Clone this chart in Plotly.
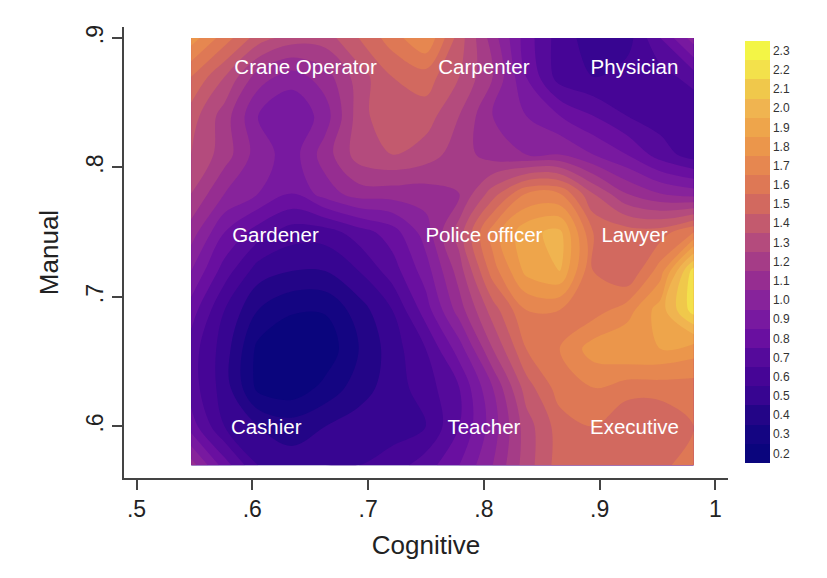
import plotly.graph_objects as go

cognitive = [0.5472, 0.5761, 0.6051, 0.634, 0.6629, 0.6919, 0.7208, 0.7497, 0.7787, 0.8076, 0.8365, 0.8655, 0.8944, 0.9233, 0.9523, 0.9812]
manual = [0.57, 0.6, 0.63, 0.66, 0.69, 0.72, 0.75, 0.78, 0.81, 0.84, 0.87, 0.9]

# rows run bottom (manual .57) to top (manual .90)
intensity = [
    [1.10, 0.80, 0.55, 0.50, 0.55, 0.55, 0.60, 0.70, 0.85, 1.05, 1.30, 1.50, 1.50, 1.50, 1.50, 1.65],
    [0.80, 0.55, 0.45, 0.40, 0.45, 0.50, 0.50, 0.55, 0.75, 1.00, 1.30, 1.50, 1.55, 1.45, 1.45, 1.55],
    [0.70, 0.50, 0.22, 0.18, 0.28, 0.40, 0.50, 0.60, 0.75, 1.05, 1.40, 1.60, 1.65, 1.60, 1.60, 1.60],
    [0.70, 0.50, 0.22, 0.18, 0.18, 0.35, 0.50, 0.65, 0.90, 1.25, 1.55, 1.65, 1.80, 1.85, 1.85, 1.80],
    [0.80, 0.55, 0.35, 0.26, 0.26, 0.40, 0.55, 0.80, 1.10, 1.40, 1.65, 1.65, 1.60, 1.70, 1.90, 2.20],
    [0.95, 0.70, 0.50, 0.45, 0.45, 0.55, 0.70, 0.90, 1.20, 1.60, 1.88, 1.95, 1.55, 1.45, 1.70, 2.20],
    [1.10, 0.85, 0.70, 0.60, 0.60, 0.70, 0.80, 1.00, 1.30, 1.70, 1.92, 1.98, 1.55, 1.50, 1.50, 1.65],
    [1.25, 1.05, 0.95, 0.85, 1.00, 1.10, 1.10, 1.10, 1.15, 1.40, 1.65, 1.65, 1.35, 1.15, 1.05, 1.00],
    [1.35, 1.20, 1.00, 0.90, 1.10, 1.30, 1.35, 1.30, 1.20, 1.10, 1.05, 1.05, 0.95, 0.85, 0.70, 0.60],
    [1.40, 1.20, 0.95, 0.85, 1.00, 1.30, 1.45, 1.40, 1.25, 1.05, 0.95, 0.85, 0.75, 0.65, 0.60, 0.55],
    [1.55, 1.35, 1.10, 1.00, 1.10, 1.30, 1.45, 1.50, 1.35, 1.15, 0.85, 0.60, 0.55, 0.60, 0.60, 0.70],
    [1.80, 1.60, 1.40, 1.30, 1.30, 1.45, 1.60, 1.75, 1.40, 1.10, 0.80, 0.60, 0.50, 0.50, 0.75, 1.00],
]

occupations = ["Crane Operator", "Carpenter", "Physician", "Gardener", "Police officer", "Lawyer", "Cashier", "Teacher", "Executive"]
occ_x = [0.646, 0.8, 0.93, 0.62, 0.8, 0.93, 0.612, 0.8, 0.93]
occ_y = [0.8762, 0.8762, 0.8762, 0.7462, 0.7462, 0.7462, 0.5982, 0.5982, 0.5982]

x_ticks = [0.5, 0.6, 0.7, 0.8, 0.9, 1.0]
x_labels = [".5", ".6", ".7", ".8", ".9", "1"]
y_ticks = [0.6, 0.7, 0.8, 0.9]
y_labels = [".6", ".7", ".8", ".9"]

band_values = [0.2, 0.3, 0.4, 0.5, 0.6, 0.7, 0.8, 0.9, 1.0, 1.1, 1.2, 1.3, 1.4, 1.5, 1.6, 1.7, 1.8, 1.9, 2.0, 2.1, 2.2, 2.3]
band_colors = [
    "rgb(10,5,125)", "rgb(20,5,130)", "rgb(35,5,135)", "rgb(55,5,145)", "rgb(70,5,150)", "rgb(85,10,155)",
    "rgb(105,15,160)", "rgb(120,25,160)", "rgb(135,35,155)", "rgb(150,45,145)", "rgb(165,60,135)", "rgb(180,75,125)",
    "rgb(195,90,110)", "rgb(210,105,95)", "rgb(222,120,85)", "rgb(230,135,80)", "rgb(235,150,75)", "rgb(238,165,75)",
    "rgb(240,180,80)", "rgb(240,200,75)", "rgb(243,225,75)", "rgb(243,245,70)",
]
ZMIN, ZMAX = 0.15, 2.35
colorscale = [[0, band_colors[0]]] + [[(v - ZMIN) / (ZMAX - ZMIN), c] for v, c in zip(band_values, band_colors)] + [[1, band_colors[-1]]]

FONT = "Liberation Sans, Arial, sans-serif"
AXIS = "#444444"

fig = go.Figure()
fig.add_trace(go.Contour(
    x=cognitive, y=manual, z=intensity,
    colorscale=colorscale, zmin=ZMIN, zmax=ZMAX,
    autocontour=False,
    contours=dict(start=ZMIN, end=ZMAX, size=0.1, coloring="fill", showlines=False),
    line=dict(width=0, smoothing=1.0),
    colorbar=dict(
        x=1.028, xanchor="left", y=0.501, yanchor="middle",
        lenmode="pixels", len=422, thicknessmode="pixels", thickness=25,
        outlinewidth=0, tick0=0.2, dtick=0.1, tickformat=".1f", ticks="",
        tickfont=dict(size=12, color="#333333", family=FONT), xpad=0, ypad=0,
    ),
    hoverinfo="skip",
))
fig.add_trace(go.Scatter(
    x=occ_x, y=occ_y, text=occupations, mode="text",
    textposition="middle center",
    textfont=dict(color="white", size=20.5, family=FONT),
    showlegend=False, hoverinfo="skip",
))

fig.update_layout(
    width=811, height=562, autosize=False,
    margin=dict(l=116, r=91, t=19, b=92),
    paper_bgcolor="white", plot_bgcolor="white",
    font=dict(family=FONT, color="#222222"),
    showlegend=False,
)
fig.update_xaxes(
    range=[0.4892, 1.0108], tickvals=x_ticks, ticktext=x_labels,
    ticks="outside", ticklen=10, tickwidth=1.5, tickcolor=AXIS,
    showline=True, linecolor=AXIS, linewidth=1.5, showgrid=False, zeroline=False,
    tickfont=dict(size=23, color="#222222"),
    title=dict(text="Cognitive", font=dict(size=26, color="#222222"), standoff=14),
)
fig.update_yaxes(
    range=[0.5602, 0.9085], tickvals=y_ticks, ticktext=y_labels, tickangle=-90,
    ticks="outside", ticklen=10, tickwidth=1.5, tickcolor=AXIS,
    showline=True, linecolor=AXIS, linewidth=1.5, showgrid=False, zeroline=False,
    tickfont=dict(size=23, color="#222222"),
    title=dict(text="Manual", font=dict(size=26, color="#222222"), standoff=16),
)

fig.write_html("out.html")
